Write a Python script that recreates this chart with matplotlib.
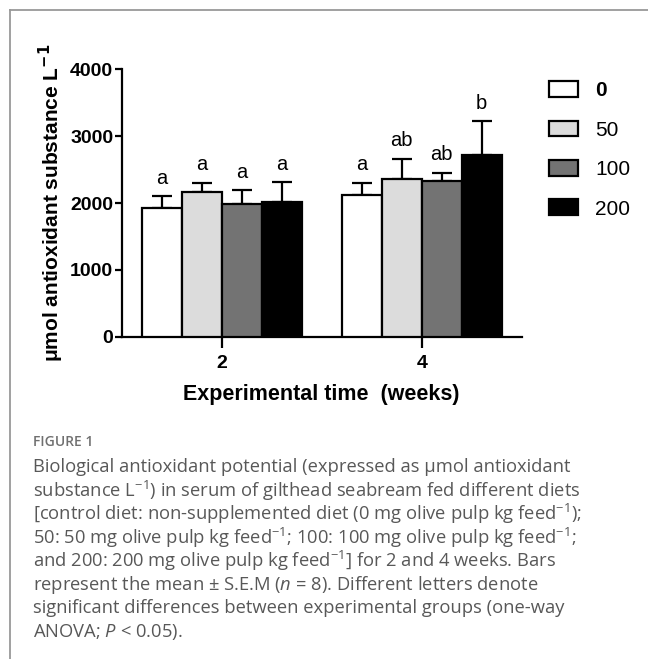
import numpy as np
import matplotlib
matplotlib.use("Agg")
import matplotlib.pyplot as plt
from matplotlib.patches import Patch
from matplotlib.lines import Line2D

# data
weeks = ["2", "4"]
doses = ["0", "50", "100", "200"]
mean_0 = [1925, 2120]
mean_50 = [2165, 2365]
mean_100 = [1990, 2330]
mean_200 = [2015, 2725]
sem_0 = [175, 180]
sem_50 = [135, 300]
sem_100 = [200, 120]
sem_200 = [295, 495]
letters_0 = ["a", "a"]
letters_50 = ["a", "ab"]
letters_100 = ["a", "ab"]
letters_200 = ["a", "b"]

means = [mean_0, mean_50, mean_100, mean_200]
sems = [sem_0, sem_50, sem_100, sem_200]
letters = [letters_0, letters_50, letters_100, letters_200]
colors = ["white", "#dcdcdc", "#737373", "black"]

plt.rcParams["font.family"] = ["Liberation Sans", "DejaVu Sans"]
plt.rcParams["mathtext.fontset"] = "custom"
plt.rcParams["mathtext.rm"] = "Open Sans"
plt.rcParams["mathtext.it"] = "Open Sans:italic"

fig = plt.figure(figsize=(6.48, 6.59), dpi=100)
ax = fig.add_axes([0.1878, 0.4891, 0.6173, 0.4057])

x = np.arange(len(weeks))
width = 0.2
for i in range(len(doses)):
    pos = x + (i - 1.5) * width
    ax.bar(pos, means[i], width, color=colors[i], edgecolor="black", linewidth=1.6, zorder=3)
    ax.errorbar(pos, means[i], yerr=[np.zeros(len(weeks)), sems[i]], fmt="none",
                ecolor="black", elinewidth=1.6, capsize=7.5, capthick=1.6, zorder=2)
    for j in range(len(weeks)):
        ax.annotate(letters[i][j], (pos[j], means[i][j] + sems[i][j]), xytext=(0, 9),
                    textcoords="offset points", ha="center", va="baseline", fontsize=14.5)

ax.set_xlim(-0.5, 1.5)
ax.set_ylim(0, 4000)
ax.set_yticks([0, 1000, 2000, 3000, 4000])
ax.set_xticks(x)
ax.set_xticklabels(weeks)
for s in ["top", "right"]:
    ax.spines[s].set_visible(False)
for s in ["left", "bottom"]:
    ax.spines[s].set_linewidth(1.6)
ax.tick_params(axis="both", width=1.6, labelsize=14)
ax.tick_params(axis="y", length=5, pad=1)
ax.tick_params(axis="x", length=8, pad=5)
for t in ax.get_xticklabels() + ax.get_yticklabels():
    t.set_fontweight("bold")

ax.set_xlabel("Experimental time  (weeks)", fontsize=15.5, fontweight="bold", labelpad=9)
ax.set_ylabel("\u03bcmol antioxidant substance L$^{\\mathbf{-1}}$", fontsize=15, fontweight="bold", labelpad=3)

handles = [Patch(facecolor=c, edgecolor="black", linewidth=1.6) for c in colors]
leg = ax.legend(handles, doses, loc="upper left", bbox_to_anchor=(1.0225, 1.026), frameon=False,
                fontsize=15, handlelength=1.35, handleheight=0.8, labelspacing=0.97, handletextpad=0.85)
leg.get_texts()[0].set_fontweight("bold")

# frame lines around the figure panel
fig.add_artist(Line2D([10 / 648, 1], [1 - 10 / 659, 1 - 10 / 659], color="#999999", linewidth=1.3))
fig.add_artist(Line2D([10 / 648, 10 / 648], [0, 1 - 10 / 659], color="#999999", linewidth=1.3))

cap_color = "#585858"
fig.text(33 / 648, 1 - 442 / 659, "FIGURE 1", fontsize=10, color="#707070", family="Open Sans",
         va="center", fontweight="semibold")
caption = [
    "Biological antioxidant potential (expressed as \u03bcmol antioxidant",
    "substance L$^{-1}$) in serum of gilthead seabream fed different diets",
    "[control diet: non-supplemented diet (0 mg olive pulp kg feed$^{-1}$);",
    "50: 50 mg olive pulp kg feed$^{-1}$; 100: 100 mg olive pulp kg feed$^{-1}$;",
    "and 200: 200 mg olive pulp kg feed$^{-1}$] for 2 and 4 weeks. Bars",
    "represent the mean \u00b1 S.E.M ($n$ = 8). Different letters denote",
    "significant differences between experimental groups (one-way",
    "ANOVA; $P$ < 0.05).",
]
for k, line in enumerate(caption):
    fig.text(33 / 648, 1 - (467 + k * 23.5) / 659, line, fontsize=13.2, color=cap_color,
             family="Open Sans", va="center")

fig.savefig("out.png", dpi=100)
